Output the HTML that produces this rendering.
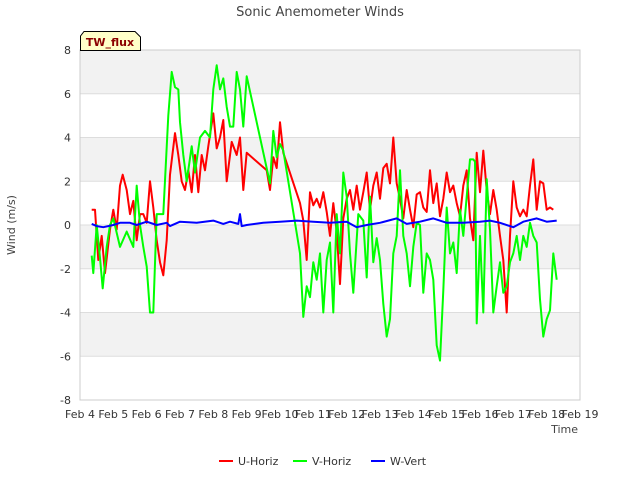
<!DOCTYPE html>
<html><head><meta charset="utf-8"><style>
body{margin:0;background:#fff;font-family:"Liberation Sans",sans-serif}
svg text{font-family:"DejaVu Sans","Liberation Sans",sans-serif}
</style></head><body>
<svg id="chart" width="640" height="480">
<text x="320" y="16" text-anchor="middle" font-size="13" fill="#444">Sonic Anemometer Winds</text>
<g id="bands"></g><g id="grid"></g>
<rect x="80" y="50" width="500" height="350" fill="none" stroke="#ccc"/>
<g id="yticks"></g><g id="xticks"></g>
<g id="series"></g>
<text x="15" y="225" transform="rotate(-90 15 225)" text-anchor="middle" font-size="11" fill="#444">Wind (m/s)</text>
<text x="578" y="433" text-anchor="end" font-size="11" fill="#444">Time</text>
<g>
<path d="M80.5,50.5 L80.5,36 L84,31.5 L135,31.5 L140.5,37 L140.5,50.5 Z" fill="#ffffc8" stroke="#000"/>
<text x="110" y="46" text-anchor="middle" font-size="11" font-weight="bold" fill="#8b0000">TW_flux</text>
</g>
<g>
<g><line x1="219" y1="461" x2="233" y2="461" stroke="#f00" stroke-width="2"/><text x="238" y="465" font-size="11" fill="#333">U-Horiz</text></g>
<g><line x1="293" y1="461" x2="307" y2="461" stroke="#0f0" stroke-width="2"/><text x="312" y="465" font-size="11" fill="#333">V-Horiz</text></g>
<g><line x1="371" y1="461" x2="385" y2="461" stroke="#00f" stroke-width="2"/><text x="390" y="465" font-size="11" fill="#333">W-Vert</text></g>
</g>
</svg>
<script>
const xTickLabels=["Feb 4","Feb 5","Feb 6","Feb 7","Feb 8","Feb 9","Feb 10","Feb 11","Feb 12","Feb 13","Feb 14","Feb 15","Feb 16","Feb 17","Feb 18","Feb 19"];
const yTicks=[-8,-6,-4,-2,0,2,4,6,8];
const uT=[0.35,0.45,0.55,0.65,0.75,0.9,1.0,1.1,1.2,1.28,1.4,1.5,1.6,1.7,1.8,1.9,2.0,2.1,2.2,2.3,2.4,2.5,2.6,2.7,2.85,2.95,3.05,3.15,3.25,3.35,3.45,3.55,3.65,3.75,3.85,4.0,4.1,4.2,4.3,4.4,4.55,4.7,4.8,4.9,5.0,5.6,5.7,5.8,5.9,6.0,6.1,6.6,6.7,6.8,6.9,7.0,7.1,7.2,7.3,7.4,7.5,7.6,7.7,7.8,7.9,8.0,8.1,8.2,8.3,8.4,8.5,8.6,8.7,8.8,8.9,9.0,9.1,9.2,9.3,9.4,9.5,9.6,9.7,9.8,9.9,10.0,10.1,10.2,10.3,10.4,10.5,10.6,10.7,10.8,10.9,11.0,11.1,11.2,11.3,11.4,11.5,11.6,11.7,11.8,11.9,12.0,12.1,12.2,12.3,12.4,12.5,12.6,12.7,12.8,12.9,13.0,13.1,13.2,13.3,13.4,13.5,13.6,13.7,13.8,13.9,14.0,14.1,14.2,14.35];
const uV=[0.7,0.7,-1.6,-0.5,-2.2,-0.2,0.7,-0.2,1.8,2.3,1.6,0.5,1.1,-0.7,0.5,0.5,0.1,2.0,0.8,-0.7,-1.7,-2.3,-0.7,2.3,4.2,3.2,2.0,1.6,2.5,1.5,3.2,1.5,3.2,2.5,3.6,5.1,3.5,4.0,4.8,2.0,3.8,3.2,4.0,1.6,3.3,2.5,1.6,3.1,2.6,4.7,3.3,1.0,0.2,-1.6,1.5,0.9,1.2,0.8,1.5,0.6,-0.5,1.0,-0.3,-2.7,0.3,1.2,1.6,0.7,1.8,0.7,1.5,2.4,0.7,1.8,2.4,1.2,2.6,2.8,1.9,4.0,1.9,1.2,0.3,1.6,0.7,-0.1,1.4,1.5,0.8,0.6,2.5,1.0,1.9,0.4,1.2,2.4,1.5,1.8,1.0,0.4,1.8,2.5,0.3,-0.7,3.3,1.5,3.4,1.6,0.5,1.6,0.7,-0.5,-1.6,-4.0,-0.5,2.0,0.8,0.4,0.7,0.4,1.8,3.0,0.7,2.0,1.9,0.7,0.8,0.7];
const vT=[0.35,0.4,0.5,0.6,0.68,0.8,0.9,1.0,1.2,1.4,1.6,1.7,1.8,1.9,2.0,2.1,2.2,2.3,2.5,2.65,2.75,2.85,2.95,3.0,3.1,3.2,3.35,3.45,3.6,3.75,3.9,4.0,4.1,4.2,4.3,4.4,4.5,4.6,4.7,4.8,4.9,5.0,5.7,5.8,5.9,6.0,6.1,6.6,6.7,6.8,6.9,7.0,7.1,7.2,7.3,7.4,7.5,7.6,7.7,7.8,7.9,8.0,8.1,8.2,8.35,8.5,8.6,8.7,8.8,8.9,9.0,9.1,9.2,9.3,9.4,9.5,9.6,9.7,9.8,9.9,10.0,10.1,10.2,10.3,10.4,10.5,10.6,10.7,10.8,10.9,11.0,11.1,11.2,11.3,11.4,11.5,11.6,11.7,11.8,11.85,11.9,12.0,12.1,12.2,12.3,12.4,12.5,12.6,12.7,12.8,12.9,13.0,13.1,13.2,13.3,13.4,13.5,13.6,13.7,13.8,13.9,14.0,14.1,14.2,14.3];
const vV=[-1.4,-2.2,0,-1.5,-2.9,-1.0,0,0.3,-1.0,-0.3,-1.0,1.8,0,-1.0,-1.9,-4.0,-4.0,0.5,0.5,5.0,7.0,6.3,6.2,4.7,3.2,2.0,3.6,2.4,4.0,4.3,4.0,6.2,7.3,6.2,6.7,5.4,4.5,4.5,7.0,6.2,4.5,6.8,1.9,4.3,3.1,3.7,3.4,-1.3,-4.2,-2.8,-3.3,-1.7,-2.5,-1.3,-4.0,-1.6,-0.8,-4.0,0.5,-1.3,2.4,1.3,-1.3,-3.1,0.5,0.2,-2.4,1.3,-1.7,-0.6,-1.6,-3.6,-5.1,-4.3,-1.3,-0.5,2.5,-0.5,-1.3,-2.8,-1.0,0.1,0,-3.1,-1.3,-1.6,-2.5,-5.5,-6.2,-3.0,0.8,-1.3,-0.8,-2.2,0.7,-0.5,1.3,3.0,3.0,2.9,-4.5,-0.5,-4.0,2.1,-0.2,-4.0,-2.8,-1.7,-3.1,-2.8,-1.7,-1.3,-0.5,-1.6,-0.5,-1.0,0.1,-0.5,-0.8,-3.4,-5.1,-4.3,-3.9,-1.3,-2.5,-2.8];
const wT=[0.35,0.5,0.7,1.0,1.2,1.5,1.7,2.0,2.3,2.6,2.7,3.0,3.5,4.0,4.3,4.5,4.75,4.8,4.85,5.0,5.5,6.0,6.5,7.0,7.5,8.0,8.3,8.6,9.0,9.5,9.8,10.2,10.6,11.0,11.5,12.0,12.3,12.6,13.0,13.3,13.7,14.0,14.3];
const wV=[0.05,-0.05,-0.1,0,0.1,0.1,0,0.15,0,0.1,-0.05,0.15,0.1,0.2,0.05,0.15,0.05,0.5,-0.05,0,0.1,0.15,0.2,0.15,0.1,0.15,-0.1,0,0.1,0.3,0.05,0.15,0.3,0.1,0.1,0.15,0.2,0.1,-0.1,0.15,0.3,0.15,0.2];
const NS="http://www.w3.org/2000/svg";
const X=t=>80+t*500/15, Y=v=>225-v*350/16;
function mk(tag,attrs,parent){const e=document.createElementNS(NS,tag);for(const k in attrs)e.setAttribute(k,attrs[k]);document.getElementById(parent).appendChild(e);return e;}
[[8,6],[4,2],[0,-2],[-4,-6]].forEach(b=>{const r=mk('rect',{x:80,y:Y(b[0]),width:500,height:Y(b[1])-Y(b[0]),fill:'#f2f2f2'},'bands');

});
yTicks.forEach(v=>{const l=mk('line',{x1:80,x2:580,y1:Y(v),y2:Y(v),stroke:'#ddd'},'grid');


const t=mk('text',{x:71,y:Y(v)+4,'text-anchor':'end','font-size':11,fill:'#333'},'yticks');t.textContent=v;

});
xTickLabels.forEach((s,i)=>{const t=mk('text',{x:X(i),y:418,'text-anchor':'middle','font-size':11,fill:'#333'},'xticks');t.textContent=s;

});
function line(ts,vs,col,name){const p=mk('polyline',{points:ts.map((t,i)=>X(t).toFixed(1)+','+Y(vs[i]).toFixed(1)).join(' '),fill:'none',stroke:col,'stroke-width':2,'stroke-linejoin':'round'},'series');

}
line(uT,uV,'#f00','u-horiz-line');
line(vT,vV,'#0f0','v-horiz-line');
line(wT,wV,'#00f','w-vert-line');
</script>
</body></html>
